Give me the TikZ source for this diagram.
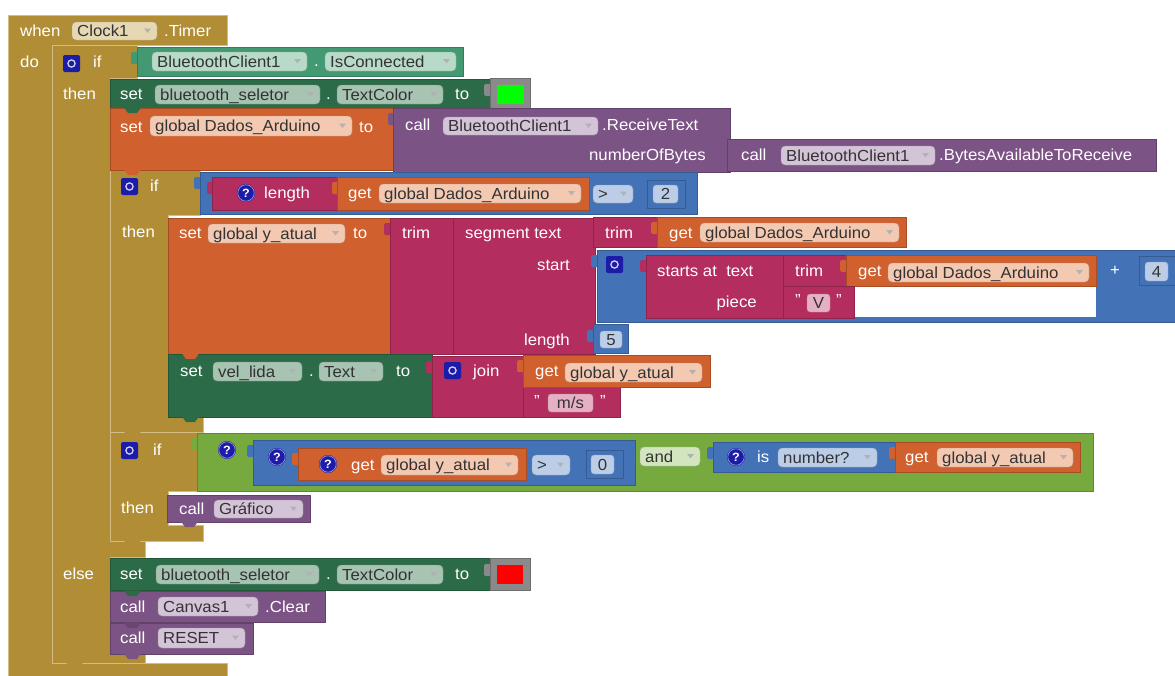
\documentclass[tikz,border=0pt]{standalone}
\usepackage{fontspec}
\setmainfont[FakeStretch=1.05]{Liberation Sans}
\definecolor{cGold}{HTML}{B18E35}
\definecolor{cGoldL}{HTML}{D2BC83}
\definecolor{cGoldF}{HTML}{E6D8B3}
\definecolor{cDG}{HTML}{2B6B47}
\definecolor{cDGF}{HTML}{A7C3B2}
\definecolor{cTeal}{HTML}{439A72}
\definecolor{cTealF}{HTML}{B8DAC8}
\definecolor{cOr}{HTML}{D0602D}
\definecolor{cOrF}{HTML}{F3C9B2}
\definecolor{cPu}{HTML}{7C5385}
\definecolor{cPuF}{HTML}{D4C4D8}
\definecolor{cMa}{HTML}{B32D5E}
\definecolor{cMaF}{HTML}{E6B0C4}
\definecolor{cBl}{HTML}{4472B6}
\definecolor{cBlF}{HTML}{BCCDE8}
\definecolor{cLg}{HTML}{76AA3F}
\definecolor{cLgF}{HTML}{D3E5BF}
\definecolor{cIc}{HTML}{1C1CA8}
\definecolor{cGray}{HTML}{8A8A8A}
\definecolor{cTxt}{HTML}{333333}
\newcounter{nn}
\newcommand\zFs{\fontsize{16}{18}\selectfont}
\tikzset{
  lab/.style={anchor=base west, inner sep=0pt, text=white, font=\zFs},
  labe/.style={anchor=base east, inner sep=0pt, text=white, font=\zFs},
  ftx/.style={anchor=base west, inner sep=0pt, text=cTxt, font=\zFs},
  ftc/.style={anchor=base, inner sep=0pt, text=cTxt, font=\zFs},
  qmark/.style={inner sep=0pt, text=white, font=\fontsize{12}{12}\selectfont\bfseries},
  gstyle/.style={fill=cGold, draw=cGoldL, line width=0.8pt},
}
\newcommand\zBk[5]{\filldraw[fill=#1,draw=#1!80!black,line width=0.5pt] (#2,#3) rectangle (#4,#5);}
\newcommand\zTb[3]{\fill[#3,rounded corners=1.5pt] (#1-6,#2+5) rectangle (#1+1,#2+17);}
\newcommand\zNt[3]{\fill[#3] (#1+14,#2-0.5) -- (#1+18,#2+5) -- (#1+27,#2+5) -- (#1+31,#2-0.5) -- cycle;}
\newcommand\zLb[3]{\stepcounter{nn}\node[lab] (t\arabic{nn}) at (#1,#2+5.7) {#3};}
\newcommand\zLbe[3]{\stepcounter{nn}\node[labe] (t\arabic{nn}) at (#1,#2+5.7) {#3};}
\newcommand\zFd[6]{%
  \filldraw[fill=#5,draw=#5!75!black,line width=0.4pt,rounded corners=4pt] (#1,#2) rectangle (#3,#4);
  \stepcounter{nn}\node[ftx] (f\arabic{nn}) at (#1+5,{(#2+#4)/2+5.7}) {#6};
  \fill[black!30] (#3-13,{(#2+#4)/2-2.5}) -- (#3-6,{(#2+#4)/2-2.5}) -- (#3-9.5,{(#2+#4)/2+2}) -- cycle;}
\newcommand\zFn[6]{%
  \filldraw[fill=#5,draw=#5!75!black,line width=0.4pt,rounded corners=3pt] (#1,#2) rectangle (#3,#4);
  \stepcounter{nn}\node[ftc] (f\arabic{nn}) at ({(#1+#3)/2},{(#2+#4)/2+5.7}) {#6};}
\newcommand\zGear[2]{%
  \fill[cIc,rounded corners=2pt] (#1,#2) rectangle (#1+17,#2+17);
  \draw[white!80!cIc,line width=1.3pt] (#1+8.5,#2+8.5) circle (3.6);}
\newcommand\zQm[2]{%
  \fill[cIc] (#1,#2) circle (9);
  \draw[white!60!cIc,line width=0.6pt] (#1,#2) circle (8.2);
  \stepcounter{nn}\node[qmark] (q\arabic{nn}) at (#1,#2) {?};}
\begin{document}
\begin{tikzpicture}[x=1pt,y=-1pt]
\useasboundingbox (0,0) rectangle (1175,675);
\fill[white] (0,0) rectangle (1175,675);
% ---------- gold control structures
\filldraw[gstyle] (8,15) -- (227,15) -- (227,45) -- (52,45) -- (52,663) -- (227,663) -- (227,678) -- (8,678) -- cycle;
\filldraw[gstyle] (52,45) -- (137,45) -- (137,78) -- (110,78) -- (110,541) -- (145,541) -- (145,557) -- (110,557) -- (110,650) -- (145,650) -- (145,663) -- (52,663) -- cycle;
\zNt{52}{663}{cGold}
\filldraw[gstyle] (110,170) -- (200,170) -- (200,215) -- (168,215) -- (168,417) -- (203,417) -- (203,432) -- (110,432) -- cycle;
\filldraw[gstyle] (110,432) -- (197,432) -- (197,491) -- (168,491) -- (168,525) -- (203,525) -- (203,541) -- (110,541) -- cycle;
\zNt{110}{432}{cGold}
\zNt{110}{541}{cGold}
% event header
\zLb{20}{31}{when}
\zFd{72}{22}{157}{40}{cGoldF}{Clock1}
\zLb{164}{31}{.Timer}
\zLb{20}{62}{do}
\zGear{63}{55}
\zLb{93}{62}{if}
\zLb{63}{94}{then}
\zLb{63}{574}{else}
% IsConnected
\zTb{137}{47}{cTeal}
\zBk{cTeal}{137}{47}{463}{76}
\zFd{152}{52}{307}{71}{cTealF}{BluetoothClient1}
\zLb{314}{61}{.}
\zFd{325}{52}{456}{71}{cTealF}{IsConnected}
% set bluetooth_seletor green
\zBk{cDG}{110}{79}{490}{108}
\zLb{120}{94}{set}
\zFd{155}{85}{320}{104}{cDGF}{bluetooth\_seletor}
\zLb{326}{94}{.}
\zFd{337}{85}{443}{104}{cDGF}{TextColor}
\zLb{455}{94}{to}
\zTb{490}{79}{cGray}
\zBk{cGray}{490}{78}{530}{108}
\fill[green] (497,85) rectangle (524,104);
% set global Dados_Arduino
\zBk{cOr}{110}{108}{395}{170}
\zNt{110}{108}{cDG}
\zLb{120}{127}{set}
\zFd{150}{116}{352}{136}{cOrF}{global Dados\_Arduino}
\zLb{359}{127}{to}
\zTb{394}{108}{cPu}
\zBk{cPu}{393}{108}{730}{172}
\zLb{405}{125}{call}
\zFd{443}{117}{598}{135}{cPuF}{BluetoothClient1}
\zLb{602}{125}{.ReceiveText}
\zLbe{706}{155}{numberOfBytes}
\zBk{cPu}{727}{139}{1156}{171}
\zLb{741}{155}{call}
\zFd{781}{146}{935}{165}{cPuF}{BluetoothClient1}
\zLb{939}{155}{.BytesAvailableToReceive}
\zNt{110}{170}{cOr}
% if2
\zGear{121}{178}
\zLb{150}{186}{if}
\zLb{122}{232}{then}
\zTb{200}{172}{cBl}
\zBk{cBl}{200}{172}{697}{214}
\zTb{213}{177}{cMa}
\zBk{cMa}{212}{177}{337}{210}
\zQm{246}{193}
\zLb{264}{193}{length}
\zTb{338}{177}{cOr}
\zBk{cOr}{337}{177}{589}{210}
\zLb{348}{193}{get}
\zFd{379}{184}{581}{203}{cOrF}{global Dados\_Arduino}
\zFd{593}{185}{633}{203}{cBlF}{>}
\zTb{647}{180}{cBl}
\zBk{cBl}{647}{180}{685}{208}
\zFn{653}{185}{678}{203}{cBlF}{2}
% set global y_atual
\zBk{cOr}{168}{218}{390}{354}
\zLb{179}{233}{set}
\zFd{208}{224}{345}{243}{cOrF}{global y\_atual}
\zLb{353}{233}{to}
\zTb{390}{218}{cMa}
\zBk{cMa}{390}{218}{453}{354}
\zLb{402}{233}{trim}
\zBk{cMa}{453}{218}{595}{354}
\zLb{465}{233}{segment text}
\zLbe{570}{265}{start}
\zLbe{570}{340}{length}
\zBk{cMa}{593}{217}{657}{247}
\zLb{605}{233}{trim}
\zTb{657}{217}{cOr}
\zBk{cOr}{657}{217}{906}{247}
\zLb{669}{233}{get}
\zFd{700}{223}{899}{242}{cOrF}{global Dados\_Arduino}
\zTb{597}{250}{cBl}
\zBk{cBl}{597}{250}{1180}{322}
\zGear{606}{256}
\zTb{646}{255}{cMa}
\zBk{cMa}{646}{255}{854}{318}
\zLb{657}{271}{starts at\ \ text}
\zLbe{757}{302}{piece}
\zBk{cMa}{783}{255}{846}{286}
\zLb{795}{271}{trim}
\zTb{846}{255}{cOr}
\zBk{cOr}{846}{255}{1096}{286}
\zLb{858}{271}{get}
\zFd{888}{263}{1089}{282}{cOrF}{global Dados\_Arduino}
\zBk{cMa}{783}{286}{854}{318}
\zLb{795}{300}{"}
\zFn{807}{294}{830}{312}{cMaF}{V}
\zLb{836}{300}{"}
\fill[white] (855,287) rectangle (1096,317);
\zLb{1110}{270}{+}
\zTb{1139}{257}{cBl}
\zBk{cBl}{1139}{256}{1180}{285}
\zFn{1145}{262}{1168}{281}{cBlF}{4}
\zTb{593}{325}{cBl}
\zBk{cBl}{593}{324}{628}{353}
\zFn{600}{331}{622}{348}{cBlF}{5}
% set vel_lida
\zBk{cDG}{168}{354}{432}{417}
\zNt{168}{354}{cOr}
\zNt{168}{417}{cDG}
\zLb{180}{371}{set}
\zFd{213}{362}{302}{381}{cDGF}{vel\_lida}
\zLb{309}{371}{.}
\zFd{319}{362}{383}{381}{cDGF}{Text}
\zLb{396}{371}{to}
\zTb{432}{356}{cMa}
\zBk{cMa}{432}{356}{523}{417}
\zBk{cMa}{523}{387}{620}{417}
\zGear{444}{362}
\zLb{473}{371}{join}
\zTb{523}{355}{cOr}
\zBk{cOr}{523}{355}{710}{387}
\zLb{535}{371}{get}
\zFd{565}{363}{702}{382}{cOrF}{global y\_atual}
\zLb{534}{401}{"}
\zFn{548}{394}{593}{412}{cMaF}{m/s}
\zLb{600}{401}{"}
% if3
\zGear{121}{442}
\zLb{153}{450}{if}
\zTb{197}{433}{cLg}
\zBk{cLg}{197}{433}{1093}{491}
\zQm{227}{450}
\zTb{253}{440}{cBl}
\zBk{cBl}{253}{440}{635}{485}
\zQm{277}{457}
\zTb{298}{448}{cOr}
\zBk{cOr}{298}{448}{526}{480}
\zQm{328}{464}
\zLb{351}{465}{get}
\zFd{381}{455}{518}{475}{cOrF}{global y\_atual}
\zFd{532}{455}{570}{475}{cBlF}{>}
\zTb{586}{450}{cBl}
\zBk{cBl}{586}{450}{623}{478}
\zFn{591}{455}{614}{474}{cBlF}{0}
\zFd{640}{447}{700}{466}{cLgF}{and}
\zTb{713}{442}{cBl}
\zBk{cBl}{713}{442}{895}{472}
\zQm{736}{457}
\zLb{757}{457}{is}
\zFd{778}{448}{877}{467}{cBlF}{number?}
\zTb{895}{442}{cOr}
\zBk{cOr}{895}{442}{1080}{472}
\zLb{905}{457}{get}
\zFd{937}{448}{1073}{467}{cOrF}{global y\_atual}
\zLb{121}{508}{then}
\zBk{cPu}{167}{495}{310}{522}
\zNt{167}{522}{cPu}
\zLb{179}{509}{call}
\zFd{214}{500}{303}{518}{cPuF}{Gráfico}
% else
\zBk{cDG}{110}{558}{490}{590}
\zLb{120}{574}{set}
\zFd{156}{565}{319}{584}{cDGF}{bluetooth\_seletor}
\zLb{326}{574}{.}
\zFd{337}{565}{443}{584}{cDGF}{TextColor}
\zLb{455}{574}{to}
\zTb{490}{559}{cGray}
\zBk{cGray}{490}{558}{530}{590}
\fill[red] (497,565) rectangle (523,584);
\zBk{cPu}{110}{591}{325}{622}
\zNt{110}{591}{cDG}
\zLb{120}{607}{call}
\zFd{158}{597}{258}{616}{cPuF}{Canvas1}
\zLb{265}{607}{.Clear}
\zBk{cPu}{110}{623}{253}{654}
\zNt{110}{623}{cPu!85!black}
\zNt{110}{654}{cPu}
\zLb{120}{638}{call}
\zFd{158}{628}{245}{648}{cPuF}{RESET}
\end{tikzpicture}
\end{document}
